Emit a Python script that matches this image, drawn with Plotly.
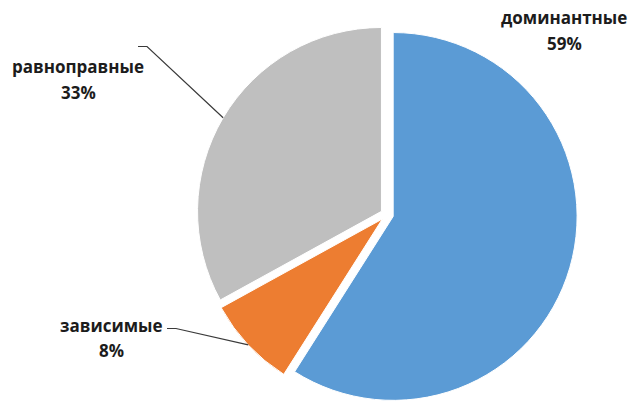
import math
import plotly.graph_objects as go

labels = ["доминантные", "зависимые", "равноправные"]
values = [59, 8, 33]
colors = ["#5B9BD5", "#ED7D31", "#BFBFBF"]

W, H = 631, 405
PULL = 0.035
DOM_Y = [0.0, 0.94]
DOM_X = [0.2633, 0.9633]

fig = go.Figure(go.Pie(
    labels=labels, values=values, sort=False, direction="clockwise", rotation=0,
    marker=dict(colors=colors, line=dict(color="white", width=1)),
    pull=PULL, textinfo="none", hoverinfo="label+percent", showlegend=False,
    domain=dict(x=DOM_X, y=DOM_Y),
))

# pie geometry in pixels (mirrors plotly's own sizing)
cx = W * (DOM_X[0] + DOM_X[1]) / 2
cy = H * (1 - (DOM_Y[0] + DOM_Y[1]) / 2)
R = min(W * (DOM_X[1] - DOM_X[0]), H * (DOM_Y[1] - DOM_Y[0])) / 2 / (1 + PULL)
total = sum(values)
mids = []
acc = 0
for v in values:
    mids.append(math.radians((acc + v / 2) / total * 360))
    acc += v

def edge(i):
    a = mids[i]
    sx = cx + PULL * R * math.sin(a)
    sy = cy - PULL * R * math.cos(a)
    return sx + R * math.sin(a), sy - R * math.cos(a)

# label centres (pixels): name line, percent line 25px lower
label_pos = {0: (564, 18), 1: (111, 325), 2: (78, 67)}
leader_start = {1: (167, 328.5), 2: (138, 46.5)}
font = dict(family="Open Sans", size=17, color="#1c1c1c")

for i, (lab, v) in enumerate(zip(labels, values)):
    x, y = label_pos[i]
    for txt, yy in ((lab, y), (f"{v}%", y + 25)):
        fig.add_annotation(
            x=x / W, y=1 - yy / H, xref="paper", yref="paper",
            xanchor="center", yanchor="middle",
            text=f"<b>{txt}</b>", showarrow=False, font=font,
        )

for i, (x0, y0) in leader_start.items():
    ex, ey = edge(i)
    p = lambda x, y: f"{x / W:.4f},{1 - y / H:.4f}"
    fig.add_shape(
        type="path", xref="paper", yref="paper",
        path=f"M {p(x0, y0)} L {p(x0 + 9, y0)} L {p(ex, ey)}",
        line=dict(color="#3a3a3a", width=1.2),
    )

fig.update_layout(
    width=W, height=H, margin=dict(l=0, r=0, t=0, b=0),
    paper_bgcolor="white", plot_bgcolor="white",
)
fig.write_html("out.html", config={"displayModeBar": False},
               post_script="document.body.style.margin='0';")
